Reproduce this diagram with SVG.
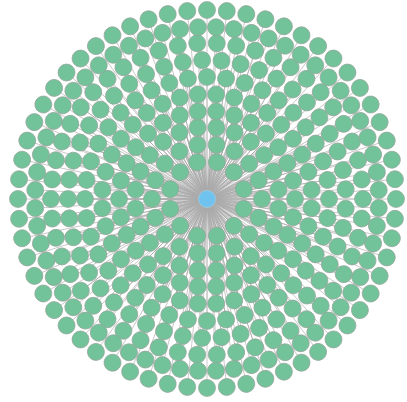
<svg xmlns="http://www.w3.org/2000/svg" width="407" height="402" viewBox="0 0 407 402">
<style>
.e path{stroke:#aaaaaa;stroke-width:0.6;fill:none}
.n circle{fill:#73c39a;stroke:#94a39a;stroke-width:0.7}
#center circle{fill:#6fc3ee;stroke:#a5d3e8;stroke-width:0.6}
</style>
<rect width="407" height="402" fill="#fff"/>
<g transform="translate(207 199)">
<g id="connectors" class="e">
<path d="M0 0H38" transform="rotate(15)"/><path d="M0 0H38" transform="rotate(45)"/><path d="M0 0H38" transform="rotate(75)"/><path d="M0 0H38" transform="rotate(105)"/><path d="M0 0H38" transform="rotate(135)"/><path d="M0 0H38" transform="rotate(165)"/><path d="M0 0H38" transform="rotate(195)"/><path d="M0 0H38" transform="rotate(225)"/><path d="M0 0H38" transform="rotate(255)"/><path d="M0 0H38" transform="rotate(285)"/><path d="M0 0H38" transform="rotate(315)"/><path d="M0 0H38" transform="rotate(345)"/>
<path d="M0 0H55" transform="rotate(0)"/><path d="M0 0H55" transform="rotate(20)"/><path d="M0 0H55" transform="rotate(40)"/><path d="M0 0H55" transform="rotate(60)"/><path d="M0 0H55" transform="rotate(80)"/><path d="M0 0H55" transform="rotate(100)"/><path d="M0 0H55" transform="rotate(120)"/><path d="M0 0H55" transform="rotate(140)"/><path d="M0 0H55" transform="rotate(160)"/><path d="M0 0H55" transform="rotate(180)"/><path d="M0 0H55" transform="rotate(200)"/><path d="M0 0H55" transform="rotate(220)"/><path d="M0 0H55" transform="rotate(240)"/><path d="M0 0H55" transform="rotate(260)"/><path d="M0 0H55" transform="rotate(280)"/><path d="M0 0H55" transform="rotate(300)"/><path d="M0 0H55" transform="rotate(320)"/><path d="M0 0H55" transform="rotate(340)"/>
<path d="M0 0H72" transform="rotate(7.5)"/><path d="M0 0H72" transform="rotate(22.5)"/><path d="M0 0H72" transform="rotate(37.5)"/><path d="M0 0H72" transform="rotate(52.5)"/><path d="M0 0H72" transform="rotate(67.5)"/><path d="M0 0H72" transform="rotate(82.5)"/><path d="M0 0H72" transform="rotate(97.5)"/><path d="M0 0H72" transform="rotate(112.5)"/><path d="M0 0H72" transform="rotate(127.5)"/><path d="M0 0H72" transform="rotate(142.5)"/><path d="M0 0H72" transform="rotate(157.5)"/><path d="M0 0H72" transform="rotate(172.5)"/><path d="M0 0H72" transform="rotate(187.5)"/><path d="M0 0H72" transform="rotate(202.5)"/><path d="M0 0H72" transform="rotate(217.5)"/><path d="M0 0H72" transform="rotate(232.5)"/><path d="M0 0H72" transform="rotate(247.5)"/><path d="M0 0H72" transform="rotate(262.5)"/><path d="M0 0H72" transform="rotate(277.5)"/><path d="M0 0H72" transform="rotate(292.5)"/><path d="M0 0H72" transform="rotate(307.5)"/><path d="M0 0H72" transform="rotate(322.5)"/><path d="M0 0H72" transform="rotate(337.5)"/><path d="M0 0H72" transform="rotate(352.5)"/>
<path d="M0 0H88" transform="rotate(0)"/><path d="M0 0H88" transform="rotate(12)"/><path d="M0 0H88" transform="rotate(24)"/><path d="M0 0H88" transform="rotate(36)"/><path d="M0 0H88" transform="rotate(48)"/><path d="M0 0H88" transform="rotate(60)"/><path d="M0 0H88" transform="rotate(72)"/><path d="M0 0H88" transform="rotate(84)"/><path d="M0 0H88" transform="rotate(96)"/><path d="M0 0H88" transform="rotate(108)"/><path d="M0 0H88" transform="rotate(120)"/><path d="M0 0H88" transform="rotate(132)"/><path d="M0 0H88" transform="rotate(144)"/><path d="M0 0H88" transform="rotate(156)"/><path d="M0 0H88" transform="rotate(168)"/><path d="M0 0H88" transform="rotate(180)"/><path d="M0 0H88" transform="rotate(192)"/><path d="M0 0H88" transform="rotate(204)"/><path d="M0 0H88" transform="rotate(216)"/><path d="M0 0H88" transform="rotate(228)"/><path d="M0 0H88" transform="rotate(240)"/><path d="M0 0H88" transform="rotate(252)"/><path d="M0 0H88" transform="rotate(264)"/><path d="M0 0H88" transform="rotate(276)"/><path d="M0 0H88" transform="rotate(288)"/><path d="M0 0H88" transform="rotate(300)"/><path d="M0 0H88" transform="rotate(312)"/><path d="M0 0H88" transform="rotate(324)"/><path d="M0 0H88" transform="rotate(336)"/><path d="M0 0H88" transform="rotate(348)"/>
<path d="M0 0H105" transform="rotate(5)"/><path d="M0 0H105" transform="rotate(15)"/><path d="M0 0H105" transform="rotate(25)"/><path d="M0 0H105" transform="rotate(35)"/><path d="M0 0H105" transform="rotate(45)"/><path d="M0 0H105" transform="rotate(55)"/><path d="M0 0H105" transform="rotate(65)"/><path d="M0 0H105" transform="rotate(75)"/><path d="M0 0H105" transform="rotate(85)"/><path d="M0 0H105" transform="rotate(95)"/><path d="M0 0H105" transform="rotate(105)"/><path d="M0 0H105" transform="rotate(115)"/><path d="M0 0H105" transform="rotate(125)"/><path d="M0 0H105" transform="rotate(135)"/><path d="M0 0H105" transform="rotate(145)"/><path d="M0 0H105" transform="rotate(155)"/><path d="M0 0H105" transform="rotate(165)"/><path d="M0 0H105" transform="rotate(175)"/><path d="M0 0H105" transform="rotate(185)"/><path d="M0 0H105" transform="rotate(195)"/><path d="M0 0H105" transform="rotate(205)"/><path d="M0 0H105" transform="rotate(215)"/><path d="M0 0H105" transform="rotate(225)"/><path d="M0 0H105" transform="rotate(235)"/><path d="M0 0H105" transform="rotate(245)"/><path d="M0 0H105" transform="rotate(255)"/><path d="M0 0H105" transform="rotate(265)"/><path d="M0 0H105" transform="rotate(275)"/><path d="M0 0H105" transform="rotate(285)"/><path d="M0 0H105" transform="rotate(295)"/><path d="M0 0H105" transform="rotate(305)"/><path d="M0 0H105" transform="rotate(315)"/><path d="M0 0H105" transform="rotate(325)"/><path d="M0 0H105" transform="rotate(335)"/><path d="M0 0H105" transform="rotate(345)"/><path d="M0 0H105" transform="rotate(355)"/>
<path d="M0 0H122" transform="rotate(0)"/><path d="M0 0H122" transform="rotate(9)"/><path d="M0 0H122" transform="rotate(18)"/><path d="M0 0H122" transform="rotate(27)"/><path d="M0 0H122" transform="rotate(36)"/><path d="M0 0H122" transform="rotate(45)"/><path d="M0 0H122" transform="rotate(54)"/><path d="M0 0H122" transform="rotate(63)"/><path d="M0 0H122" transform="rotate(72)"/><path d="M0 0H122" transform="rotate(81)"/><path d="M0 0H122" transform="rotate(90)"/><path d="M0 0H122" transform="rotate(99)"/><path d="M0 0H122" transform="rotate(108)"/><path d="M0 0H122" transform="rotate(117)"/><path d="M0 0H122" transform="rotate(126)"/><path d="M0 0H122" transform="rotate(135)"/><path d="M0 0H122" transform="rotate(144)"/><path d="M0 0H122" transform="rotate(153)"/><path d="M0 0H122" transform="rotate(162)"/><path d="M0 0H122" transform="rotate(171)"/><path d="M0 0H122" transform="rotate(180)"/><path d="M0 0H122" transform="rotate(189)"/><path d="M0 0H122" transform="rotate(198)"/><path d="M0 0H122" transform="rotate(207)"/><path d="M0 0H122" transform="rotate(216)"/><path d="M0 0H122" transform="rotate(225)"/><path d="M0 0H122" transform="rotate(234)"/><path d="M0 0H122" transform="rotate(243)"/><path d="M0 0H122" transform="rotate(252)"/><path d="M0 0H122" transform="rotate(261)"/><path d="M0 0H122" transform="rotate(270)"/><path d="M0 0H122" transform="rotate(279)"/><path d="M0 0H122" transform="rotate(288)"/><path d="M0 0H122" transform="rotate(297)"/><path d="M0 0H122" transform="rotate(306)"/><path d="M0 0H122" transform="rotate(315)"/><path d="M0 0H122" transform="rotate(324)"/><path d="M0 0H122" transform="rotate(333)"/><path d="M0 0H122" transform="rotate(342)"/><path d="M0 0H122" transform="rotate(351)"/>
<path d="M0 0H139" transform="rotate(4)"/><path d="M0 0H139" transform="rotate(12)"/><path d="M0 0H139" transform="rotate(20)"/><path d="M0 0H139" transform="rotate(28)"/><path d="M0 0H139" transform="rotate(36)"/><path d="M0 0H139" transform="rotate(44)"/><path d="M0 0H139" transform="rotate(52)"/><path d="M0 0H139" transform="rotate(60)"/><path d="M0 0H139" transform="rotate(68)"/><path d="M0 0H139" transform="rotate(76)"/><path d="M0 0H139" transform="rotate(84)"/><path d="M0 0H139" transform="rotate(92)"/><path d="M0 0H139" transform="rotate(100)"/><path d="M0 0H139" transform="rotate(108)"/><path d="M0 0H139" transform="rotate(116)"/><path d="M0 0H139" transform="rotate(124)"/><path d="M0 0H139" transform="rotate(132)"/><path d="M0 0H139" transform="rotate(140)"/><path d="M0 0H139" transform="rotate(148)"/><path d="M0 0H139" transform="rotate(156)"/><path d="M0 0H139" transform="rotate(164)"/><path d="M0 0H139" transform="rotate(172)"/><path d="M0 0H139" transform="rotate(180)"/><path d="M0 0H139" transform="rotate(188)"/><path d="M0 0H139" transform="rotate(196)"/><path d="M0 0H139" transform="rotate(204)"/><path d="M0 0H139" transform="rotate(212)"/><path d="M0 0H139" transform="rotate(220)"/><path d="M0 0H139" transform="rotate(228)"/><path d="M0 0H139" transform="rotate(236)"/><path d="M0 0H139" transform="rotate(244)"/><path d="M0 0H139" transform="rotate(252)"/><path d="M0 0H139" transform="rotate(260)"/><path d="M0 0H139" transform="rotate(268)"/><path d="M0 0H139" transform="rotate(276)"/><path d="M0 0H139" transform="rotate(284)"/><path d="M0 0H139" transform="rotate(292)"/><path d="M0 0H139" transform="rotate(300)"/><path d="M0 0H139" transform="rotate(308)"/><path d="M0 0H139" transform="rotate(316)"/><path d="M0 0H139" transform="rotate(324)"/><path d="M0 0H139" transform="rotate(332)"/><path d="M0 0H139" transform="rotate(340)"/><path d="M0 0H139" transform="rotate(348)"/><path d="M0 0H139" transform="rotate(356)"/>
<path d="M0 0H156" transform="rotate(0)"/><path d="M0 0H156" transform="rotate(7.2)"/><path d="M0 0H156" transform="rotate(14.4)"/><path d="M0 0H156" transform="rotate(21.6)"/><path d="M0 0H156" transform="rotate(28.8)"/><path d="M0 0H156" transform="rotate(36)"/><path d="M0 0H156" transform="rotate(43.2)"/><path d="M0 0H156" transform="rotate(50.4)"/><path d="M0 0H156" transform="rotate(57.6)"/><path d="M0 0H156" transform="rotate(64.8)"/><path d="M0 0H156" transform="rotate(72)"/><path d="M0 0H156" transform="rotate(79.2)"/><path d="M0 0H156" transform="rotate(86.4)"/><path d="M0 0H156" transform="rotate(93.6)"/><path d="M0 0H156" transform="rotate(100.8)"/><path d="M0 0H156" transform="rotate(108)"/><path d="M0 0H156" transform="rotate(115.2)"/><path d="M0 0H156" transform="rotate(122.4)"/><path d="M0 0H156" transform="rotate(129.6)"/><path d="M0 0H156" transform="rotate(136.8)"/><path d="M0 0H156" transform="rotate(144)"/><path d="M0 0H156" transform="rotate(151.2)"/><path d="M0 0H156" transform="rotate(158.4)"/><path d="M0 0H156" transform="rotate(165.6)"/><path d="M0 0H156" transform="rotate(172.8)"/><path d="M0 0H156" transform="rotate(180)"/><path d="M0 0H156" transform="rotate(187.2)"/><path d="M0 0H156" transform="rotate(194.4)"/><path d="M0 0H156" transform="rotate(201.6)"/><path d="M0 0H156" transform="rotate(208.8)"/><path d="M0 0H156" transform="rotate(216)"/><path d="M0 0H156" transform="rotate(223.2)"/><path d="M0 0H156" transform="rotate(230.4)"/><path d="M0 0H156" transform="rotate(237.6)"/><path d="M0 0H156" transform="rotate(244.8)"/><path d="M0 0H156" transform="rotate(252)"/><path d="M0 0H156" transform="rotate(259.2)"/><path d="M0 0H156" transform="rotate(266.4)"/><path d="M0 0H156" transform="rotate(273.6)"/><path d="M0 0H156" transform="rotate(280.8)"/><path d="M0 0H156" transform="rotate(288)"/><path d="M0 0H156" transform="rotate(295.2)"/><path d="M0 0H156" transform="rotate(302.4)"/><path d="M0 0H156" transform="rotate(309.6)"/><path d="M0 0H156" transform="rotate(316.8)"/><path d="M0 0H156" transform="rotate(324)"/><path d="M0 0H156" transform="rotate(331.2)"/><path d="M0 0H156" transform="rotate(338.4)"/><path d="M0 0H156" transform="rotate(345.6)"/><path d="M0 0H156" transform="rotate(352.8)"/>
<path d="M0 0H172" transform="rotate(3)"/><path d="M0 0H172" transform="rotate(9)"/><path d="M0 0H172" transform="rotate(15)"/><path d="M0 0H172" transform="rotate(21)"/><path d="M0 0H172" transform="rotate(27)"/><path d="M0 0H172" transform="rotate(33)"/><path d="M0 0H172" transform="rotate(39)"/><path d="M0 0H172" transform="rotate(45)"/><path d="M0 0H172" transform="rotate(51)"/><path d="M0 0H172" transform="rotate(57)"/><path d="M0 0H172" transform="rotate(63)"/><path d="M0 0H172" transform="rotate(69)"/><path d="M0 0H172" transform="rotate(75)"/><path d="M0 0H172" transform="rotate(81)"/><path d="M0 0H172" transform="rotate(87)"/><path d="M0 0H172" transform="rotate(93)"/><path d="M0 0H172" transform="rotate(99)"/><path d="M0 0H172" transform="rotate(105)"/><path d="M0 0H172" transform="rotate(111)"/><path d="M0 0H172" transform="rotate(117)"/><path d="M0 0H172" transform="rotate(123)"/><path d="M0 0H172" transform="rotate(129)"/><path d="M0 0H172" transform="rotate(135)"/><path d="M0 0H172" transform="rotate(141)"/><path d="M0 0H172" transform="rotate(147)"/><path d="M0 0H172" transform="rotate(153)"/><path d="M0 0H172" transform="rotate(159)"/><path d="M0 0H172" transform="rotate(165)"/><path d="M0 0H172" transform="rotate(171)"/><path d="M0 0H172" transform="rotate(177)"/><path d="M0 0H172" transform="rotate(183)"/><path d="M0 0H172" transform="rotate(189)"/><path d="M0 0H172" transform="rotate(195)"/><path d="M0 0H172" transform="rotate(201)"/><path d="M0 0H172" transform="rotate(207)"/><path d="M0 0H172" transform="rotate(213)"/><path d="M0 0H172" transform="rotate(219)"/><path d="M0 0H172" transform="rotate(225)"/><path d="M0 0H172" transform="rotate(231)"/><path d="M0 0H172" transform="rotate(237)"/><path d="M0 0H172" transform="rotate(243)"/><path d="M0 0H172" transform="rotate(249)"/><path d="M0 0H172" transform="rotate(255)"/><path d="M0 0H172" transform="rotate(261)"/><path d="M0 0H172" transform="rotate(267)"/><path d="M0 0H172" transform="rotate(273)"/><path d="M0 0H172" transform="rotate(279)"/><path d="M0 0H172" transform="rotate(285)"/><path d="M0 0H172" transform="rotate(291)"/><path d="M0 0H172" transform="rotate(297)"/><path d="M0 0H172" transform="rotate(303)"/><path d="M0 0H172" transform="rotate(309)"/><path d="M0 0H172" transform="rotate(315)"/><path d="M0 0H172" transform="rotate(321)"/><path d="M0 0H172" transform="rotate(327)"/><path d="M0 0H172" transform="rotate(333)"/><path d="M0 0H172" transform="rotate(339)"/><path d="M0 0H172" transform="rotate(345)"/><path d="M0 0H172" transform="rotate(351)"/><path d="M0 0H172" transform="rotate(357)"/>
<path d="M0 0H189" transform="rotate(0)"/><path d="M0 0H189" transform="rotate(6)"/><path d="M0 0H189" transform="rotate(12)"/><path d="M0 0H189" transform="rotate(18)"/><path d="M0 0H189" transform="rotate(24)"/><path d="M0 0H189" transform="rotate(30)"/><path d="M0 0H189" transform="rotate(36)"/><path d="M0 0H189" transform="rotate(42)"/><path d="M0 0H189" transform="rotate(48)"/><path d="M0 0H189" transform="rotate(54)"/><path d="M0 0H189" transform="rotate(60)"/><path d="M0 0H189" transform="rotate(66)"/><path d="M0 0H189" transform="rotate(72)"/><path d="M0 0H189" transform="rotate(78)"/><path d="M0 0H189" transform="rotate(84)"/><path d="M0 0H189" transform="rotate(90)"/><path d="M0 0H189" transform="rotate(96)"/><path d="M0 0H189" transform="rotate(102)"/><path d="M0 0H189" transform="rotate(108)"/><path d="M0 0H189" transform="rotate(114)"/><path d="M0 0H189" transform="rotate(120)"/><path d="M0 0H189" transform="rotate(126)"/><path d="M0 0H189" transform="rotate(132)"/><path d="M0 0H189" transform="rotate(138)"/><path d="M0 0H189" transform="rotate(144)"/><path d="M0 0H189" transform="rotate(150)"/><path d="M0 0H189" transform="rotate(156)"/><path d="M0 0H189" transform="rotate(162)"/><path d="M0 0H189" transform="rotate(168)"/><path d="M0 0H189" transform="rotate(174)"/><path d="M0 0H189" transform="rotate(180)"/><path d="M0 0H189" transform="rotate(186)"/><path d="M0 0H189" transform="rotate(192)"/><path d="M0 0H189" transform="rotate(198)"/><path d="M0 0H189" transform="rotate(204)"/><path d="M0 0H189" transform="rotate(210)"/><path d="M0 0H189" transform="rotate(216)"/><path d="M0 0H189" transform="rotate(222)"/><path d="M0 0H189" transform="rotate(228)"/><path d="M0 0H189" transform="rotate(234)"/><path d="M0 0H189" transform="rotate(240)"/><path d="M0 0H189" transform="rotate(246)"/><path d="M0 0H189" transform="rotate(252)"/><path d="M0 0H189" transform="rotate(258)"/><path d="M0 0H189" transform="rotate(264)"/><path d="M0 0H189" transform="rotate(270)"/><path d="M0 0H189" transform="rotate(276)"/><path d="M0 0H189" transform="rotate(282)"/><path d="M0 0H189" transform="rotate(288)"/><path d="M0 0H189" transform="rotate(294)"/><path d="M0 0H189" transform="rotate(300)"/><path d="M0 0H189" transform="rotate(306)"/><path d="M0 0H189" transform="rotate(312)"/><path d="M0 0H189" transform="rotate(318)"/><path d="M0 0H189" transform="rotate(324)"/><path d="M0 0H189" transform="rotate(330)"/><path d="M0 0H189" transform="rotate(336)"/><path d="M0 0H189" transform="rotate(342)"/><path d="M0 0H189" transform="rotate(348)"/><path d="M0 0H189" transform="rotate(354)"/>
</g>
<g id="nodes" class="n">
<g id="a1" transform="rotate(15)"><circle cx="38" r="8.5"/></g><g id="a2" transform="rotate(45)"><circle cx="38" r="8.5"/></g><g id="a3" transform="rotate(75)"><circle cx="38" r="8.5"/></g><g id="a4" transform="rotate(105)"><circle cx="38" r="8.5"/></g><g id="a5" transform="rotate(135)"><circle cx="38" r="8.5"/></g><g id="a6" transform="rotate(165)"><circle cx="38" r="8.5"/></g><g id="a7" transform="rotate(195)"><circle cx="38" r="8.5"/></g><g id="a8" transform="rotate(225)"><circle cx="38" r="8.5"/></g><g id="a9" transform="rotate(255)"><circle cx="38" r="8.5"/></g><g id="a10" transform="rotate(285)"><circle cx="38" r="8.5"/></g><g id="a11" transform="rotate(315)"><circle cx="38" r="8.5"/></g><g id="a12" transform="rotate(345)"><circle cx="38" r="8.5"/></g>
<g id="b1" transform="rotate(0)"><circle cx="55" r="8.5"/></g><g id="b2" transform="rotate(20)"><circle cx="55" r="8.5"/></g><g id="b3" transform="rotate(40)"><circle cx="55" r="8.5"/></g><g id="b4" transform="rotate(60)"><circle cx="55" r="8.5"/></g><g id="b5" transform="rotate(80)"><circle cx="55" r="8.5"/></g><g id="b6" transform="rotate(100)"><circle cx="55" r="8.5"/></g><g id="b7" transform="rotate(120)"><circle cx="55" r="8.5"/></g><g id="b8" transform="rotate(140)"><circle cx="55" r="8.5"/></g><g id="b9" transform="rotate(160)"><circle cx="55" r="8.5"/></g><g id="b10" transform="rotate(180)"><circle cx="55" r="8.5"/></g><g id="b11" transform="rotate(200)"><circle cx="55" r="8.5"/></g><g id="b12" transform="rotate(220)"><circle cx="55" r="8.5"/></g><g id="b13" transform="rotate(240)"><circle cx="55" r="8.5"/></g><g id="b14" transform="rotate(260)"><circle cx="55" r="8.5"/></g><g id="b15" transform="rotate(280)"><circle cx="55" r="8.5"/></g><g id="b16" transform="rotate(300)"><circle cx="55" r="8.5"/></g><g id="b17" transform="rotate(320)"><circle cx="55" r="8.5"/></g><g id="b18" transform="rotate(340)"><circle cx="55" r="8.5"/></g>
<g id="c1" transform="rotate(7.5)"><circle cx="72" r="8.5"/></g><g id="c2" transform="rotate(22.5)"><circle cx="72" r="8.5"/></g><g id="c3" transform="rotate(37.5)"><circle cx="72" r="8.5"/></g><g id="c4" transform="rotate(52.5)"><circle cx="72" r="8.5"/></g><g id="c5" transform="rotate(67.5)"><circle cx="72" r="8.5"/></g><g id="c6" transform="rotate(82.5)"><circle cx="72" r="8.5"/></g><g id="c7" transform="rotate(97.5)"><circle cx="72" r="8.5"/></g><g id="c8" transform="rotate(112.5)"><circle cx="72" r="8.5"/></g><g id="c9" transform="rotate(127.5)"><circle cx="72" r="8.5"/></g><g id="c10" transform="rotate(142.5)"><circle cx="72" r="8.5"/></g><g id="c11" transform="rotate(157.5)"><circle cx="72" r="8.5"/></g><g id="c12" transform="rotate(172.5)"><circle cx="72" r="8.5"/></g><g id="c13" transform="rotate(187.5)"><circle cx="72" r="8.5"/></g><g id="c14" transform="rotate(202.5)"><circle cx="72" r="8.5"/></g><g id="c15" transform="rotate(217.5)"><circle cx="72" r="8.5"/></g><g id="c16" transform="rotate(232.5)"><circle cx="72" r="8.5"/></g><g id="c17" transform="rotate(247.5)"><circle cx="72" r="8.5"/></g><g id="c18" transform="rotate(262.5)"><circle cx="72" r="8.5"/></g><g id="c19" transform="rotate(277.5)"><circle cx="72" r="8.5"/></g><g id="c20" transform="rotate(292.5)"><circle cx="72" r="8.5"/></g><g id="c21" transform="rotate(307.5)"><circle cx="72" r="8.5"/></g><g id="c22" transform="rotate(322.5)"><circle cx="72" r="8.5"/></g><g id="c23" transform="rotate(337.5)"><circle cx="72" r="8.5"/></g><g id="c24" transform="rotate(352.5)"><circle cx="72" r="8.5"/></g>
<g id="d1" transform="rotate(0)"><circle cx="88" r="8.5"/></g><g id="d2" transform="rotate(12)"><circle cx="88" r="8.5"/></g><g id="d3" transform="rotate(24)"><circle cx="88" r="8.5"/></g><g id="d4" transform="rotate(36)"><circle cx="88" r="8.5"/></g><g id="d5" transform="rotate(48)"><circle cx="88" r="8.5"/></g><g id="d6" transform="rotate(60)"><circle cx="88" r="8.5"/></g><g id="d7" transform="rotate(72)"><circle cx="88" r="8.5"/></g><g id="d8" transform="rotate(84)"><circle cx="88" r="8.5"/></g><g id="d9" transform="rotate(96)"><circle cx="88" r="8.5"/></g><g id="d10" transform="rotate(108)"><circle cx="88" r="8.5"/></g><g id="d11" transform="rotate(120)"><circle cx="88" r="8.5"/></g><g id="d12" transform="rotate(132)"><circle cx="88" r="8.5"/></g><g id="d13" transform="rotate(144)"><circle cx="88" r="8.5"/></g><g id="d14" transform="rotate(156)"><circle cx="88" r="8.5"/></g><g id="d15" transform="rotate(168)"><circle cx="88" r="8.5"/></g><g id="d16" transform="rotate(180)"><circle cx="88" r="8.5"/></g><g id="d17" transform="rotate(192)"><circle cx="88" r="8.5"/></g><g id="d18" transform="rotate(204)"><circle cx="88" r="8.5"/></g><g id="d19" transform="rotate(216)"><circle cx="88" r="8.5"/></g><g id="d20" transform="rotate(228)"><circle cx="88" r="8.5"/></g><g id="d21" transform="rotate(240)"><circle cx="88" r="8.5"/></g><g id="d22" transform="rotate(252)"><circle cx="88" r="8.5"/></g><g id="d23" transform="rotate(264)"><circle cx="88" r="8.5"/></g><g id="d24" transform="rotate(276)"><circle cx="88" r="8.5"/></g><g id="d25" transform="rotate(288)"><circle cx="88" r="8.5"/></g><g id="d26" transform="rotate(300)"><circle cx="88" r="8.5"/></g><g id="d27" transform="rotate(312)"><circle cx="88" r="8.5"/></g><g id="d28" transform="rotate(324)"><circle cx="88" r="8.5"/></g><g id="d29" transform="rotate(336)"><circle cx="88" r="8.5"/></g><g id="d30" transform="rotate(348)"><circle cx="88" r="8.5"/></g>
<g id="e1" transform="rotate(5)"><circle cx="105" r="8.5"/></g><g id="e2" transform="rotate(15)"><circle cx="105" r="8.5"/></g><g id="e3" transform="rotate(25)"><circle cx="105" r="8.5"/></g><g id="e4" transform="rotate(35)"><circle cx="105" r="8.5"/></g><g id="e5" transform="rotate(45)"><circle cx="105" r="8.5"/></g><g id="e6" transform="rotate(55)"><circle cx="105" r="8.5"/></g><g id="e7" transform="rotate(65)"><circle cx="105" r="8.5"/></g><g id="e8" transform="rotate(75)"><circle cx="105" r="8.5"/></g><g id="e9" transform="rotate(85)"><circle cx="105" r="8.5"/></g><g id="e10" transform="rotate(95)"><circle cx="105" r="8.5"/></g><g id="e11" transform="rotate(105)"><circle cx="105" r="8.5"/></g><g id="e12" transform="rotate(115)"><circle cx="105" r="8.5"/></g><g id="e13" transform="rotate(125)"><circle cx="105" r="8.5"/></g><g id="e14" transform="rotate(135)"><circle cx="105" r="8.5"/></g><g id="e15" transform="rotate(145)"><circle cx="105" r="8.5"/></g><g id="e16" transform="rotate(155)"><circle cx="105" r="8.5"/></g><g id="e17" transform="rotate(165)"><circle cx="105" r="8.5"/></g><g id="e18" transform="rotate(175)"><circle cx="105" r="8.5"/></g><g id="e19" transform="rotate(185)"><circle cx="105" r="8.5"/></g><g id="e20" transform="rotate(195)"><circle cx="105" r="8.5"/></g><g id="e21" transform="rotate(205)"><circle cx="105" r="8.5"/></g><g id="e22" transform="rotate(215)"><circle cx="105" r="8.5"/></g><g id="e23" transform="rotate(225)"><circle cx="105" r="8.5"/></g><g id="e24" transform="rotate(235)"><circle cx="105" r="8.5"/></g><g id="e25" transform="rotate(245)"><circle cx="105" r="8.5"/></g><g id="e26" transform="rotate(255)"><circle cx="105" r="8.5"/></g><g id="e27" transform="rotate(265)"><circle cx="105" r="8.5"/></g><g id="e28" transform="rotate(275)"><circle cx="105" r="8.5"/></g><g id="e29" transform="rotate(285)"><circle cx="105" r="8.5"/></g><g id="e30" transform="rotate(295)"><circle cx="105" r="8.5"/></g><g id="e31" transform="rotate(305)"><circle cx="105" r="8.5"/></g><g id="e32" transform="rotate(315)"><circle cx="105" r="8.5"/></g><g id="e33" transform="rotate(325)"><circle cx="105" r="8.5"/></g><g id="e34" transform="rotate(335)"><circle cx="105" r="8.5"/></g><g id="e35" transform="rotate(345)"><circle cx="105" r="8.5"/></g><g id="e36" transform="rotate(355)"><circle cx="105" r="8.5"/></g>
<g id="f1" transform="rotate(0)"><circle cx="122" r="8.5"/></g><g id="f2" transform="rotate(9)"><circle cx="122" r="8.5"/></g><g id="f3" transform="rotate(18)"><circle cx="122" r="8.5"/></g><g id="f4" transform="rotate(27)"><circle cx="122" r="8.5"/></g><g id="f5" transform="rotate(36)"><circle cx="122" r="8.5"/></g><g id="f6" transform="rotate(45)"><circle cx="122" r="8.5"/></g><g id="f7" transform="rotate(54)"><circle cx="122" r="8.5"/></g><g id="f8" transform="rotate(63)"><circle cx="122" r="8.5"/></g><g id="f9" transform="rotate(72)"><circle cx="122" r="8.5"/></g><g id="f10" transform="rotate(81)"><circle cx="122" r="8.5"/></g><g id="f11" transform="rotate(90)"><circle cx="122" r="8.5"/></g><g id="f12" transform="rotate(99)"><circle cx="122" r="8.5"/></g><g id="f13" transform="rotate(108)"><circle cx="122" r="8.5"/></g><g id="f14" transform="rotate(117)"><circle cx="122" r="8.5"/></g><g id="f15" transform="rotate(126)"><circle cx="122" r="8.5"/></g><g id="f16" transform="rotate(135)"><circle cx="122" r="8.5"/></g><g id="f17" transform="rotate(144)"><circle cx="122" r="8.5"/></g><g id="f18" transform="rotate(153)"><circle cx="122" r="8.5"/></g><g id="f19" transform="rotate(162)"><circle cx="122" r="8.5"/></g><g id="f20" transform="rotate(171)"><circle cx="122" r="8.5"/></g><g id="f21" transform="rotate(180)"><circle cx="122" r="8.5"/></g><g id="f22" transform="rotate(189)"><circle cx="122" r="8.5"/></g><g id="f23" transform="rotate(198)"><circle cx="122" r="8.5"/></g><g id="f24" transform="rotate(207)"><circle cx="122" r="8.5"/></g><g id="f25" transform="rotate(216)"><circle cx="122" r="8.5"/></g><g id="f26" transform="rotate(225)"><circle cx="122" r="8.5"/></g><g id="f27" transform="rotate(234)"><circle cx="122" r="8.5"/></g><g id="f28" transform="rotate(243)"><circle cx="122" r="8.5"/></g><g id="f29" transform="rotate(252)"><circle cx="122" r="8.5"/></g><g id="f30" transform="rotate(261)"><circle cx="122" r="8.5"/></g><g id="f31" transform="rotate(270)"><circle cx="122" r="8.5"/></g><g id="f32" transform="rotate(279)"><circle cx="122" r="8.5"/></g><g id="f33" transform="rotate(288)"><circle cx="122" r="8.5"/></g><g id="f34" transform="rotate(297)"><circle cx="122" r="8.5"/></g><g id="f35" transform="rotate(306)"><circle cx="122" r="8.5"/></g><g id="f36" transform="rotate(315)"><circle cx="122" r="8.5"/></g><g id="f37" transform="rotate(324)"><circle cx="122" r="8.5"/></g><g id="f38" transform="rotate(333)"><circle cx="122" r="8.5"/></g><g id="f39" transform="rotate(342)"><circle cx="122" r="8.5"/></g><g id="f40" transform="rotate(351)"><circle cx="122" r="8.5"/></g>
<g id="g1" transform="rotate(4)"><circle cx="139" r="8.5"/></g><g id="g2" transform="rotate(12)"><circle cx="139" r="8.5"/></g><g id="g3" transform="rotate(20)"><circle cx="139" r="8.5"/></g><g id="g4" transform="rotate(28)"><circle cx="139" r="8.5"/></g><g id="g5" transform="rotate(36)"><circle cx="139" r="8.5"/></g><g id="g6" transform="rotate(44)"><circle cx="139" r="8.5"/></g><g id="g7" transform="rotate(52)"><circle cx="139" r="8.5"/></g><g id="g8" transform="rotate(60)"><circle cx="139" r="8.5"/></g><g id="g9" transform="rotate(68)"><circle cx="139" r="8.5"/></g><g id="g10" transform="rotate(76)"><circle cx="139" r="8.5"/></g><g id="g11" transform="rotate(84)"><circle cx="139" r="8.5"/></g><g id="g12" transform="rotate(92)"><circle cx="139" r="8.5"/></g><g id="g13" transform="rotate(100)"><circle cx="139" r="8.5"/></g><g id="g14" transform="rotate(108)"><circle cx="139" r="8.5"/></g><g id="g15" transform="rotate(116)"><circle cx="139" r="8.5"/></g><g id="g16" transform="rotate(124)"><circle cx="139" r="8.5"/></g><g id="g17" transform="rotate(132)"><circle cx="139" r="8.5"/></g><g id="g18" transform="rotate(140)"><circle cx="139" r="8.5"/></g><g id="g19" transform="rotate(148)"><circle cx="139" r="8.5"/></g><g id="g20" transform="rotate(156)"><circle cx="139" r="8.5"/></g><g id="g21" transform="rotate(164)"><circle cx="139" r="8.5"/></g><g id="g22" transform="rotate(172)"><circle cx="139" r="8.5"/></g><g id="g23" transform="rotate(180)"><circle cx="139" r="8.5"/></g><g id="g24" transform="rotate(188)"><circle cx="139" r="8.5"/></g><g id="g25" transform="rotate(196)"><circle cx="139" r="8.5"/></g><g id="g26" transform="rotate(204)"><circle cx="139" r="8.5"/></g><g id="g27" transform="rotate(212)"><circle cx="139" r="8.5"/></g><g id="g28" transform="rotate(220)"><circle cx="139" r="8.5"/></g><g id="g29" transform="rotate(228)"><circle cx="139" r="8.5"/></g><g id="g30" transform="rotate(236)"><circle cx="139" r="8.5"/></g><g id="g31" transform="rotate(244)"><circle cx="139" r="8.5"/></g><g id="g32" transform="rotate(252)"><circle cx="139" r="8.5"/></g><g id="g33" transform="rotate(260)"><circle cx="139" r="8.5"/></g><g id="g34" transform="rotate(268)"><circle cx="139" r="8.5"/></g><g id="g35" transform="rotate(276)"><circle cx="139" r="8.5"/></g><g id="g36" transform="rotate(284)"><circle cx="139" r="8.5"/></g><g id="g37" transform="rotate(292)"><circle cx="139" r="8.5"/></g><g id="g38" transform="rotate(300)"><circle cx="139" r="8.5"/></g><g id="g39" transform="rotate(308)"><circle cx="139" r="8.5"/></g><g id="g40" transform="rotate(316)"><circle cx="139" r="8.5"/></g><g id="g41" transform="rotate(324)"><circle cx="139" r="8.5"/></g><g id="g42" transform="rotate(332)"><circle cx="139" r="8.5"/></g><g id="g43" transform="rotate(340)"><circle cx="139" r="8.5"/></g><g id="g44" transform="rotate(348)"><circle cx="139" r="8.5"/></g><g id="g45" transform="rotate(356)"><circle cx="139" r="8.5"/></g>
<g id="h1" transform="rotate(0)"><circle cx="156" r="8.5"/></g><g id="h2" transform="rotate(7.2)"><circle cx="156" r="8.5"/></g><g id="h3" transform="rotate(14.4)"><circle cx="156" r="8.5"/></g><g id="h4" transform="rotate(21.6)"><circle cx="156" r="8.5"/></g><g id="h5" transform="rotate(28.8)"><circle cx="156" r="8.5"/></g><g id="h6" transform="rotate(36)"><circle cx="156" r="8.5"/></g><g id="h7" transform="rotate(43.2)"><circle cx="156" r="8.5"/></g><g id="h8" transform="rotate(50.4)"><circle cx="156" r="8.5"/></g><g id="h9" transform="rotate(57.6)"><circle cx="156" r="8.5"/></g><g id="h10" transform="rotate(64.8)"><circle cx="156" r="8.5"/></g><g id="h11" transform="rotate(72)"><circle cx="156" r="8.5"/></g><g id="h12" transform="rotate(79.2)"><circle cx="156" r="8.5"/></g><g id="h13" transform="rotate(86.4)"><circle cx="156" r="8.5"/></g><g id="h14" transform="rotate(93.6)"><circle cx="156" r="8.5"/></g><g id="h15" transform="rotate(100.8)"><circle cx="156" r="8.5"/></g><g id="h16" transform="rotate(108)"><circle cx="156" r="8.5"/></g><g id="h17" transform="rotate(115.2)"><circle cx="156" r="8.5"/></g><g id="h18" transform="rotate(122.4)"><circle cx="156" r="8.5"/></g><g id="h19" transform="rotate(129.6)"><circle cx="156" r="8.5"/></g><g id="h20" transform="rotate(136.8)"><circle cx="156" r="8.5"/></g><g id="h21" transform="rotate(144)"><circle cx="156" r="8.5"/></g><g id="h22" transform="rotate(151.2)"><circle cx="156" r="8.5"/></g><g id="h23" transform="rotate(158.4)"><circle cx="156" r="8.5"/></g><g id="h24" transform="rotate(165.6)"><circle cx="156" r="8.5"/></g><g id="h25" transform="rotate(172.8)"><circle cx="156" r="8.5"/></g><g id="h26" transform="rotate(180)"><circle cx="156" r="8.5"/></g><g id="h27" transform="rotate(187.2)"><circle cx="156" r="8.5"/></g><g id="h28" transform="rotate(194.4)"><circle cx="156" r="8.5"/></g><g id="h29" transform="rotate(201.6)"><circle cx="156" r="8.5"/></g><g id="h30" transform="rotate(208.8)"><circle cx="156" r="8.5"/></g><g id="h31" transform="rotate(216)"><circle cx="156" r="8.5"/></g><g id="h32" transform="rotate(223.2)"><circle cx="156" r="8.5"/></g><g id="h33" transform="rotate(230.4)"><circle cx="156" r="8.5"/></g><g id="h34" transform="rotate(237.6)"><circle cx="156" r="8.5"/></g><g id="h35" transform="rotate(244.8)"><circle cx="156" r="8.5"/></g><g id="h36" transform="rotate(252)"><circle cx="156" r="8.5"/></g><g id="h37" transform="rotate(259.2)"><circle cx="156" r="8.5"/></g><g id="h38" transform="rotate(266.4)"><circle cx="156" r="8.5"/></g><g id="h39" transform="rotate(273.6)"><circle cx="156" r="8.5"/></g><g id="h40" transform="rotate(280.8)"><circle cx="156" r="8.5"/></g><g id="h41" transform="rotate(288)"><circle cx="156" r="8.5"/></g><g id="h42" transform="rotate(295.2)"><circle cx="156" r="8.5"/></g><g id="h43" transform="rotate(302.4)"><circle cx="156" r="8.5"/></g><g id="h44" transform="rotate(309.6)"><circle cx="156" r="8.5"/></g><g id="h45" transform="rotate(316.8)"><circle cx="156" r="8.5"/></g><g id="h46" transform="rotate(324)"><circle cx="156" r="8.5"/></g><g id="h47" transform="rotate(331.2)"><circle cx="156" r="8.5"/></g><g id="h48" transform="rotate(338.4)"><circle cx="156" r="8.5"/></g><g id="h49" transform="rotate(345.6)"><circle cx="156" r="8.5"/></g><g id="h50" transform="rotate(352.8)"><circle cx="156" r="8.5"/></g>
<g id="i1" transform="rotate(3)"><circle cx="172" r="8.5"/></g><g id="i2" transform="rotate(9)"><circle cx="172" r="8.5"/></g><g id="i3" transform="rotate(15)"><circle cx="172" r="8.5"/></g><g id="i4" transform="rotate(21)"><circle cx="172" r="8.5"/></g><g id="i5" transform="rotate(27)"><circle cx="172" r="8.5"/></g><g id="i6" transform="rotate(33)"><circle cx="172" r="8.5"/></g><g id="i7" transform="rotate(39)"><circle cx="172" r="8.5"/></g><g id="i8" transform="rotate(45)"><circle cx="172" r="8.5"/></g><g id="i9" transform="rotate(51)"><circle cx="172" r="8.5"/></g><g id="i10" transform="rotate(57)"><circle cx="172" r="8.5"/></g><g id="i11" transform="rotate(63)"><circle cx="172" r="8.5"/></g><g id="i12" transform="rotate(69)"><circle cx="172" r="8.5"/></g><g id="i13" transform="rotate(75)"><circle cx="172" r="8.5"/></g><g id="i14" transform="rotate(81)"><circle cx="172" r="8.5"/></g><g id="i15" transform="rotate(87)"><circle cx="172" r="8.5"/></g><g id="i16" transform="rotate(93)"><circle cx="172" r="8.5"/></g><g id="i17" transform="rotate(99)"><circle cx="172" r="8.5"/></g><g id="i18" transform="rotate(105)"><circle cx="172" r="8.5"/></g><g id="i19" transform="rotate(111)"><circle cx="172" r="8.5"/></g><g id="i20" transform="rotate(117)"><circle cx="172" r="8.5"/></g><g id="i21" transform="rotate(123)"><circle cx="172" r="8.5"/></g><g id="i22" transform="rotate(129)"><circle cx="172" r="8.5"/></g><g id="i23" transform="rotate(135)"><circle cx="172" r="8.5"/></g><g id="i24" transform="rotate(141)"><circle cx="172" r="8.5"/></g><g id="i25" transform="rotate(147)"><circle cx="172" r="8.5"/></g><g id="i26" transform="rotate(153)"><circle cx="172" r="8.5"/></g><g id="i27" transform="rotate(159)"><circle cx="172" r="8.5"/></g><g id="i28" transform="rotate(165)"><circle cx="172" r="8.5"/></g><g id="i29" transform="rotate(171)"><circle cx="172" r="8.5"/></g><g id="i30" transform="rotate(177)"><circle cx="172" r="8.5"/></g><g id="i31" transform="rotate(183)"><circle cx="172" r="8.5"/></g><g id="i32" transform="rotate(189)"><circle cx="172" r="8.5"/></g><g id="i33" transform="rotate(195)"><circle cx="172" r="8.5"/></g><g id="i34" transform="rotate(201)"><circle cx="172" r="8.5"/></g><g id="i35" transform="rotate(207)"><circle cx="172" r="8.5"/></g><g id="i36" transform="rotate(213)"><circle cx="172" r="8.5"/></g><g id="i37" transform="rotate(219)"><circle cx="172" r="8.5"/></g><g id="i38" transform="rotate(225)"><circle cx="172" r="8.5"/></g><g id="i39" transform="rotate(231)"><circle cx="172" r="8.5"/></g><g id="i40" transform="rotate(237)"><circle cx="172" r="8.5"/></g><g id="i41" transform="rotate(243)"><circle cx="172" r="8.5"/></g><g id="i42" transform="rotate(249)"><circle cx="172" r="8.5"/></g><g id="i43" transform="rotate(255)"><circle cx="172" r="8.5"/></g><g id="i44" transform="rotate(261)"><circle cx="172" r="8.5"/></g><g id="i45" transform="rotate(267)"><circle cx="172" r="8.5"/></g><g id="i46" transform="rotate(273)"><circle cx="172" r="8.5"/></g><g id="i47" transform="rotate(279)"><circle cx="172" r="8.5"/></g><g id="i48" transform="rotate(285)"><circle cx="172" r="8.5"/></g><g id="i49" transform="rotate(291)"><circle cx="172" r="8.5"/></g><g id="i50" transform="rotate(297)"><circle cx="172" r="8.5"/></g><g id="i51" transform="rotate(303)"><circle cx="172" r="8.5"/></g><g id="i52" transform="rotate(309)"><circle cx="172" r="8.5"/></g><g id="i53" transform="rotate(315)"><circle cx="172" r="8.5"/></g><g id="i54" transform="rotate(321)"><circle cx="172" r="8.5"/></g><g id="i55" transform="rotate(327)"><circle cx="172" r="8.5"/></g><g id="i56" transform="rotate(333)"><circle cx="172" r="8.5"/></g><g id="i57" transform="rotate(339)"><circle cx="172" r="8.5"/></g><g id="i58" transform="rotate(345)"><circle cx="172" r="8.5"/></g><g id="i59" transform="rotate(351)"><circle cx="172" r="8.5"/></g><g id="i60" transform="rotate(357)"><circle cx="172" r="8.5"/></g>
<g id="j1" transform="rotate(0)"><circle cx="189" r="8.5"/></g><g id="j2" transform="rotate(6)"><circle cx="189" r="8.5"/></g><g id="j3" transform="rotate(12)"><circle cx="189" r="8.5"/></g><g id="j4" transform="rotate(18)"><circle cx="189" r="8.5"/></g><g id="j5" transform="rotate(24)"><circle cx="189" r="8.5"/></g><g id="j6" transform="rotate(30)"><circle cx="189" r="8.5"/></g><g id="j7" transform="rotate(36)"><circle cx="189" r="8.5"/></g><g id="j8" transform="rotate(42)"><circle cx="189" r="8.5"/></g><g id="j9" transform="rotate(48)"><circle cx="189" r="8.5"/></g><g id="j10" transform="rotate(54)"><circle cx="189" r="8.5"/></g><g id="j11" transform="rotate(60)"><circle cx="189" r="8.5"/></g><g id="j12" transform="rotate(66)"><circle cx="189" r="8.5"/></g><g id="j13" transform="rotate(72)"><circle cx="189" r="8.5"/></g><g id="j14" transform="rotate(78)"><circle cx="189" r="8.5"/></g><g id="j15" transform="rotate(84)"><circle cx="189" r="8.5"/></g><g id="j16" transform="rotate(90)"><circle cx="189" r="8.5"/></g><g id="j17" transform="rotate(96)"><circle cx="189" r="8.5"/></g><g id="j18" transform="rotate(102)"><circle cx="189" r="8.5"/></g><g id="j19" transform="rotate(108)"><circle cx="189" r="8.5"/></g><g id="j20" transform="rotate(114)"><circle cx="189" r="8.5"/></g><g id="j21" transform="rotate(120)"><circle cx="189" r="8.5"/></g><g id="j22" transform="rotate(126)"><circle cx="189" r="8.5"/></g><g id="j23" transform="rotate(132)"><circle cx="189" r="8.5"/></g><g id="j24" transform="rotate(138)"><circle cx="189" r="8.5"/></g><g id="j25" transform="rotate(144)"><circle cx="189" r="8.5"/></g><g id="j26" transform="rotate(150)"><circle cx="189" r="8.5"/></g><g id="j27" transform="rotate(156)"><circle cx="189" r="8.5"/></g><g id="j28" transform="rotate(162)"><circle cx="189" r="8.5"/></g><g id="j29" transform="rotate(168)"><circle cx="189" r="8.5"/></g><g id="j30" transform="rotate(174)"><circle cx="189" r="8.5"/></g><g id="j31" transform="rotate(180)"><circle cx="189" r="8.5"/></g><g id="j32" transform="rotate(186)"><circle cx="189" r="8.5"/></g><g id="j33" transform="rotate(192)"><circle cx="189" r="8.5"/></g><g id="j34" transform="rotate(198)"><circle cx="189" r="8.5"/></g><g id="j35" transform="rotate(204)"><circle cx="189" r="8.5"/></g><g id="j36" transform="rotate(210)"><circle cx="189" r="8.5"/></g><g id="j37" transform="rotate(216)"><circle cx="189" r="8.5"/></g><g id="j38" transform="rotate(222)"><circle cx="189" r="8.5"/></g><g id="j39" transform="rotate(228)"><circle cx="189" r="8.5"/></g><g id="j40" transform="rotate(234)"><circle cx="189" r="8.5"/></g><g id="j41" transform="rotate(240)"><circle cx="189" r="8.5"/></g><g id="j42" transform="rotate(246)"><circle cx="189" r="8.5"/></g><g id="j43" transform="rotate(252)"><circle cx="189" r="8.5"/></g><g id="j44" transform="rotate(258)"><circle cx="189" r="8.5"/></g><g id="j45" transform="rotate(264)"><circle cx="189" r="8.5"/></g><g id="j46" transform="rotate(270)"><circle cx="189" r="8.5"/></g><g id="j47" transform="rotate(276)"><circle cx="189" r="8.5"/></g><g id="j48" transform="rotate(282)"><circle cx="189" r="8.5"/></g><g id="j49" transform="rotate(288)"><circle cx="189" r="8.5"/></g><g id="j50" transform="rotate(294)"><circle cx="189" r="8.5"/></g><g id="j51" transform="rotate(300)"><circle cx="189" r="8.5"/></g><g id="j52" transform="rotate(306)"><circle cx="189" r="8.5"/></g><g id="j53" transform="rotate(312)"><circle cx="189" r="8.5"/></g><g id="j54" transform="rotate(318)"><circle cx="189" r="8.5"/></g><g id="j55" transform="rotate(324)"><circle cx="189" r="8.5"/></g><g id="j56" transform="rotate(330)"><circle cx="189" r="8.5"/></g><g id="j57" transform="rotate(336)"><circle cx="189" r="8.5"/></g><g id="j58" transform="rotate(342)"><circle cx="189" r="8.5"/></g><g id="j59" transform="rotate(348)"><circle cx="189" r="8.5"/></g><g id="j60" transform="rotate(354)"><circle cx="189" r="8.5"/></g>
</g>
<g id="center"><circle r="8.5"/></g>
</g>
</svg>
